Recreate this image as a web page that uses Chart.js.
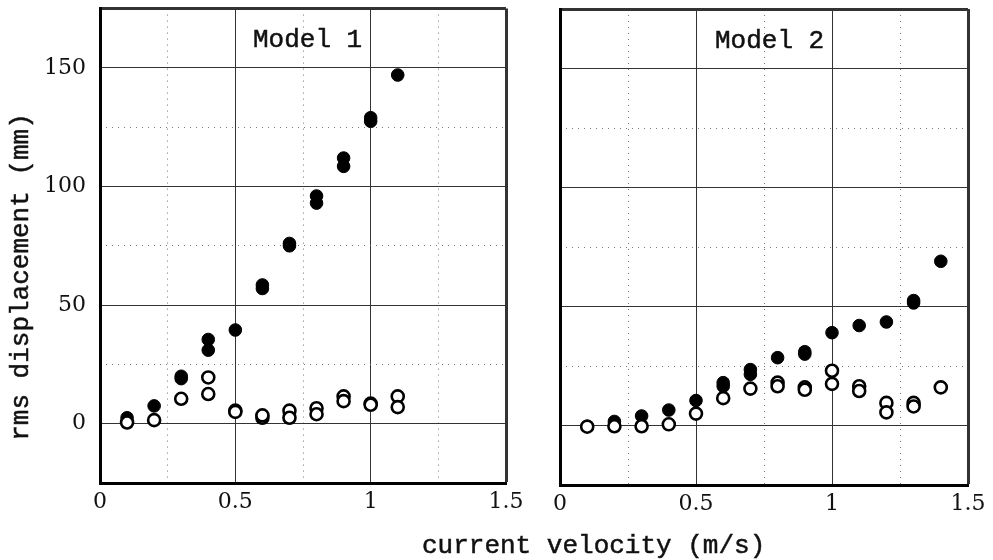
<!DOCTYPE html>
<html>
<head>
<meta charset="utf-8">
<script src="https://cdn.jsdelivr.net/npm/chart.js@4.4.1/dist/chart.umd.min.js"></script>
<style>
  body { margin: 0; background: #fff; }
  #wrap { position: relative; width: 993px; height: 560px; overflow: hidden; }
  canvas { position: absolute; top: 0; }
  .lbl { position: absolute; font-family: "Liberation Mono", monospace; font-size: 26px; line-height: 26px; color: #111; white-space: nowrap; -webkit-text-stroke: 0.5px #111; }
  #ytitle { width: 400px; text-align: center; left: -179px; top: 264px; transform: rotate(-90deg); }
</style>
</head>
<body>
<div id="wrap">
  <canvas id="c2" width="473" height="560" style="left:520px"></canvas>
  <canvas id="c1" width="540" height="560" style="left:0"></canvas>
  <div class="lbl" style="left:253px;top:27px">Model 1</div>
  <div class="lbl" style="left:715px;top:28px">Model 2</div>
  <div class="lbl" style="left:422px;top:533px">current velocity (m/s)</div>
  <div class="lbl" id="ytitle">rms displacement (mm)</div>
</div>
<script>
// axis ticks
const X_TICKS = [0, 0.5, 1, 1.5];
const X_MINOR = [0.25, 0.75, 1.25];
const Y_TICKS = [-25, 0, 50, 100, 150, 175];
const Y_MINOR = [25, 75, 125];
const Y_LABELED = [0, 50, 100, 150];

// Model 1
const M1_FILLED_V = [0.1, 0.2, 0.3, 0.3, 0.4, 0.4, 0.5, 0.6, 0.6, 0.7, 0.7, 0.8, 0.8, 0.9, 0.9, 1.0, 1.0, 1.1];
const M1_FILLED_Y = [2.5, 7.5, 19, 20, 35.5, 31, 39.5, 57, 58.5, 75, 76, 96, 93, 112, 108.5, 129, 127.5, 147];
const M1_OPEN_V = [0.1, 0.2, 0.3, 0.4, 0.4, 0.5, 0.5, 0.6, 0.6, 0.7, 0.7, 0.8, 0.8, 0.9, 0.9, 1.0, 1.0, 1.1, 1.1];
const M1_OPEN_Y = [0.5, 1.5, 10.5, 19.5, 12.5, 5.5, 5, 2.5, 3.5, 5.5, 2.5, 6.5, 4, 11.5, 9.5, 8.5, 8, 11.5, 7];

// Model 2
const M2_FILLED_V = [0.1, 0.2, 0.3, 0.4, 0.5, 0.6, 0.6, 0.7, 0.7, 0.8, 0.9, 0.9, 1.0, 1.1, 1.2, 1.3, 1.3, 1.4];
const M2_FILLED_Y = [-0.3, 1.7, 4, 6.5, 10.5, 18, 16.5, 23.5, 21.5, 28.5, 31, 30, 39, 42, 43.5, 52.5, 51.5, 69];
const M2_OPEN_V = [0.1, 0.2, 0.3, 0.4, 0.5, 0.6, 0.7, 0.8, 0.8, 0.9, 0.9, 1.0, 1.0, 1.1, 1.1, 1.2, 1.2, 1.3, 1.3, 1.4];
const M2_OPEN_Y = [-0.5, -0.3, -0.3, 0.5, 5, 11.5, 15.5, 18, 16.5, 16, 15, 23, 17.5, 16.5, 14.5, 9.5, 5.5, 9.5, 8, 16];

const TICK_FONT = { family: "DejaVu Serif", size: 22 };
const GRID_MAJOR = "#333";
const GRID_MINOR = "#777";

const pts = (xs, ys) => xs.map((x, i) => ({ x, y: ys[i] }));
const setTicks = (vals) => (s) => { s.ticks = vals.map((v) => ({ value: v })); };
// fixed axis size, and no extra room for overhanging edge labels
const fixSize = (prop, size) => (s) => {
  s[prop] = size;
  s.paddingTop = s.paddingBottom = s.paddingLeft = s.paddingRight = 0;
};

function makePanel(canvas, filledV, filledY, openV, openY, lay) {
  return new Chart(canvas, {
    type: "scatter",
    data: {
      datasets: [
        // first dataset is drawn on top
        { label: "open", data: pts(openV, openY), pointRadius: 6, pointBackgroundColor: "#fff", pointBorderColor: "#000", pointBorderWidth: 2.6 },
        { label: "filled", data: pts(filledV, filledY), pointRadius: 6.3, pointBackgroundColor: "#000", pointBorderColor: "#000", pointBorderWidth: 1 },
      ],
    },
    options: {
      responsive: false, animation: false,
      layout: { padding: lay.padding },
      plugins: { legend: { display: false }, tooltip: { enabled: false } },
      scales: {
        x: {
          type: "linear", min: 0, max: 1.5, position: "bottom",
          afterBuildTicks: setTicks(X_TICKS),
          afterFit: fixSize("height", lay.xH),
          grid: { drawTicks: false, color: GRID_MAJOR, lineWidth: (c) => (c.tick && c.tick.value === 1.5 ? 3 : 1) },
          border: { color: "#000", width: 3 },
          ticks: { padding: 6, color: "#111", font: TICK_FONT, maxRotation: 0, autoSkip: false, callback: (v) => String(v) },
        },
        xm: {
          type: "linear", min: 0, max: 1.5, position: "bottom",
          afterBuildTicks: setTicks(X_MINOR),
          afterFit: fixSize("height", 0),
          grid: { drawTicks: false, color: GRID_MINOR, lineWidth: 1 },
          border: { display: false, dash: [1, 5] },
          ticks: { display: false },
        },
        y: {
          type: "linear", min: -25, max: 175, position: "left",
          afterBuildTicks: setTicks(Y_TICKS),
          afterFit: fixSize("width", lay.yW),
          grid: { drawTicks: false, color: GRID_MAJOR, lineWidth: (c) => (c.tick && (c.tick.value === 175 || c.tick.value === -25) ? 3 : 1) },
          border: { color: "#000", width: 3 },
          ticks: {
            display: lay.yLabels, padding: 14, color: "#111", font: TICK_FONT, autoSkip: false,
            callback: (v) => (Y_LABELED.includes(v) ? String(v) : ""),
          },
        },
        ym: {
          type: "linear", min: -25, max: 175, position: "left",
          afterBuildTicks: setTicks(Y_MINOR),
          afterFit: fixSize("width", 0),
          grid: { drawTicks: false, color: GRID_MINOR, lineWidth: 1 },
          border: { display: false, dash: [1, 5] },
          ticks: { display: false },
        },
      },
    },
  });
}

makePanel(document.getElementById("c1"), M1_FILLED_V, M1_FILLED_Y, M1_OPEN_V, M1_OPEN_Y,
  { padding: { left: 0, right: 34, top: 7, bottom: 0 }, xH: 77, yW: 100, yLabels: true });
makePanel(document.getElementById("c2"), M2_FILLED_V, M2_FILLED_Y, M2_OPEN_V, M2_OPEN_Y,
  { padding: { left: 40, right: 25, top: 9, bottom: 0 }, xH: 75, yW: 0, yLabels: false });
</script>
</body>
</html>
